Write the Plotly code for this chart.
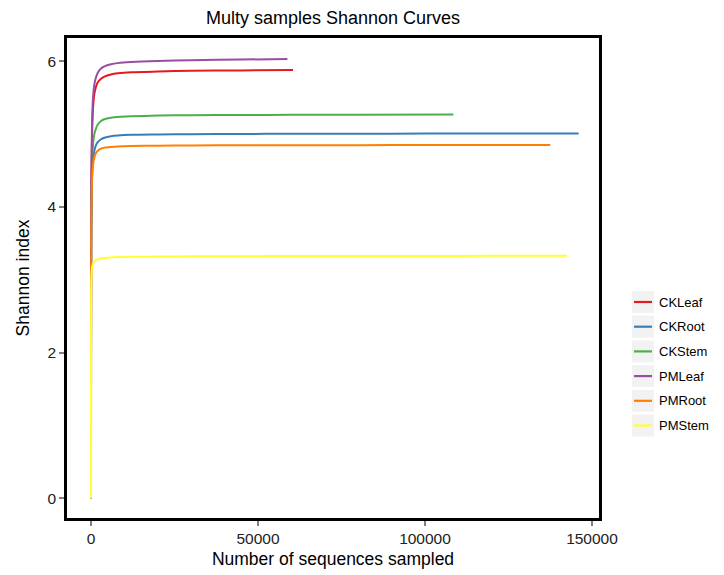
import plotly.graph_objects as go

# Rarefaction sampling depths (shared for the early part of each curve)
depth_early = [0, 10, 50, 100, 300, 600, 1000, 1500, 2000, 3000, 4000, 6000, 8000, 12000, 20000, 30000, 45000]

samples = ["CKLeaf", "CKRoot", "CKStem", "PMLeaf", "PMRoot", "PMStem"]
colors = ["#E41A1C", "#377EB8", "#4DAF4A", "#984EA3", "#FF7F00", "#FFFF33"]

ckleaf_x = depth_early + [60500]
ckleaf_y = [0, 2.0, 3.5, 4.2, 4.95, 5.35, 5.55, 5.65, 5.71, 5.76, 5.79, 5.82, 5.835, 5.85, 5.86, 5.87, 5.875, 5.88]

ckroot_x = depth_early + [60000, 80000, 100000, 120000, 146000]
ckroot_y = [0, 1.8, 3.2, 3.8, 4.4, 4.65, 4.77, 4.85, 4.89, 4.93, 4.95, 4.97, 4.98, 4.99, 4.995, 5.0, 5.003, 5.005, 5.006, 5.008, 5.009, 5.01]

ckstem_x = depth_early + [60000, 80000, 108500]
ckstem_y = [0, 1.9, 3.3, 3.9, 4.55, 4.85, 5.0, 5.08, 5.13, 5.18, 5.205, 5.225, 5.235, 5.245, 5.255, 5.26, 5.263, 5.265, 5.268, 5.27]

pmleaf_x = depth_early + [58800]
pmleaf_y = [0, 2.1, 3.6, 4.3, 5.1, 5.5, 5.68, 5.78, 5.84, 5.9, 5.93, 5.96, 5.975, 5.99, 6.005, 6.015, 6.025, 6.03]

pmroot_x = depth_early + [60000, 80000, 100000, 120000, 137500]
pmroot_y = [0, 1.8, 3.2, 3.8, 4.35, 4.57, 4.68, 4.74, 4.77, 4.80, 4.815, 4.825, 4.832, 4.838, 4.842, 4.845, 4.847, 4.848, 4.849, 4.85, 4.85, 4.85]

pmstem_x = depth_early + [60000, 80000, 100000, 120000, 142500]
pmstem_y = [0, 1.6, 2.7, 3.0, 3.17, 3.22, 3.25, 3.27, 3.28, 3.295, 3.30, 3.308, 3.312, 3.316, 3.32, 3.322, 3.325, 3.326, 3.327, 3.328, 3.329, 3.33]

series_x = [ckleaf_x, ckroot_x, ckstem_x, pmleaf_x, pmroot_x, pmstem_x]
series_y = [ckleaf_y, ckroot_y, ckstem_y, pmleaf_y, pmroot_y, pmstem_y]

x_ticks = [0, 50000, 100000, 150000]
y_ticks = [0, 2, 4, 6]

FONT = "Liberation Sans, Arial, sans-serif"
W, H = 724, 575
M_L, M_R, M_T, M_B = 67, 125, 38, 57
PLOT_W = W - M_L - M_R
PLOT_H = H - M_T - M_B

fig = go.Figure()
for name, color, xs, ys in zip(samples, colors, series_x, series_y):
    fig.add_trace(go.Scatter(
        x=xs, y=ys, name=name, mode="lines", showlegend=False,
        line=dict(color=color, width=2, shape="spline", smoothing=0.6),
    ))


def px_to_paper(px, py):
    return (px - M_L) / PLOT_W, (H - M_B - py) / PLOT_H


# Legend drawn as key boxes + line samples + labels, to the right of the panel
shapes, annotations = [], []
key_left, key_right, key_half = 632, 654, 11
row0, row_step = 302, 24.7
for i, (name, color) in enumerate(zip(samples, colors)):
    cy = row0 + i * row_step
    x0, y0 = px_to_paper(key_left, cy + key_half)
    x1, y1 = px_to_paper(key_right, cy - key_half)
    shapes.append(dict(type="rect", xref="paper", yref="paper", x0=x0, y0=y0, x1=x1, y1=y1,
                       fillcolor="#F2F2F2", line=dict(width=0), layer="above"))
    lx0, ly = px_to_paper(key_left + 2, cy)
    lx1, _ = px_to_paper(key_right - 2, cy)
    shapes.append(dict(type="line", xref="paper", yref="paper", x0=lx0, y0=ly, x1=lx1, y1=ly,
                       line=dict(color=color, width=2.2), layer="above"))
    tx, ty = px_to_paper(key_right + 3, cy)
    annotations.append(dict(text=name, xref="paper", yref="paper", x=tx, y=ty,
                            xanchor="left", yanchor="middle", showarrow=False,
                            font=dict(family=FONT, size=13, color="black")))

axis_common = dict(
    showgrid=False, zeroline=False, automargin=False,
    showline=True, linecolor="black", linewidth=2.5, mirror=True,
    ticks="outside", ticklen=5, tickwidth=1.5, tickcolor="#7f7f7f",
    tickfont=dict(family=FONT, size=15.5, color="#222222"),
)

fig.update_layout(
    width=W, height=H,
    margin=dict(l=M_L, r=M_R, t=M_T, b=M_B),
    paper_bgcolor="white", plot_bgcolor="white",
    font=dict(family=FONT, color="black"),
    showlegend=False,
    title=dict(text="Multy samples Shannon Curves", x=0.5, xref="paper", xanchor="center",
               y=1 - 18 / H, yanchor="middle", font=dict(family=FONT, size=18, color="black")),
    xaxis=dict(axis_common, range=[-7185, 152100], tickvals=x_ticks,
               ticktext=[str(v) for v in x_ticks],
               title=dict(text="Number of sequences sampled", standoff=7,
                          font=dict(family=FONT, size=17.5, color="black"))),
    yaxis=dict(axis_common, range=[-0.27, 6.32], tickvals=y_ticks,
               title=dict(text="Shannon index", standoff=14,
                          font=dict(family=FONT, size=17.5, color="black"))),
    shapes=shapes,
    annotations=annotations,
)

fig.write_html("out.html")
